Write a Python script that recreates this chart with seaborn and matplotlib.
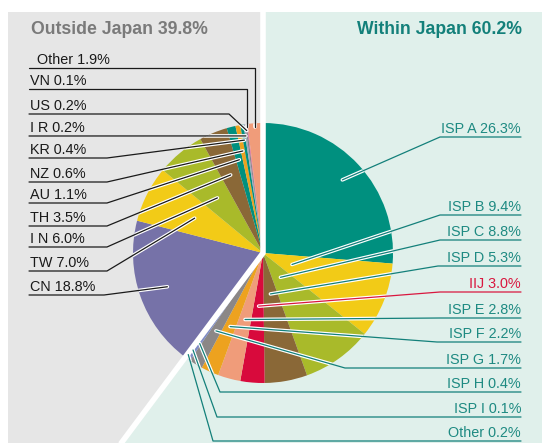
import numpy as np
import matplotlib
matplotlib.use("Agg")
import matplotlib.pyplot as plt
from matplotlib.patches import Circle, Polygon, Rectangle
import seaborn as sns

# shares in percent
jp_labels = ["ISP A", "ISP B", "ISP C", "ISP D", "IIJ", "ISP E", "ISP F", "ISP G", "ISP H", "ISP I", "Other"]
jp_share = [26.3, 9.4, 8.8, 5.3, 3.0, 2.8, 2.2, 1.7, 0.4, 0.1, 0.2]
ext_labels = ["CN", "TW", "I N", "TH", "AU", "NZ", "KR", "I R", "US", "VN", "Other"]
ext_share = [18.8, 7.0, 6.0, 3.5, 1.1, 0.6, 0.4, 0.2, 0.2, 0.1, 1.9]
jp_total = "Within Japan 60.2%"
ext_total = "Outside Japan 39.8%"

jp_colors = ["#00907f", "#f2cb17", "#a9ba2a", "#8a6837", "#d80a3c", "#f09c7a",
             "#eda21f", "#8b8787", "#7f8bc4", "#e8609a", "#5b8fd0"]
ext_colors = ["#7672a8", "#f2cb17", "#a9ba2a", "#8a6837", "#00907f", "#eda21f",
              "#00907f", "#a3a9c0", "#8b8787", "#e8609a", "#f09c7a"]

# label layout (pixels from top-left)
jp_line_y = [137, 215, 240, 266, 292, 318, 342, 368, 392, 417, 441]
jp_elbow_x = [440, 440, 440, 438, 440, 440, 437, 345, 220, 217, 213]
jp_frac = [0.83, 0.24, 0.23, 0.32, 0.41, 0.53, 0.62, 0.70, 0.85, 0.92, 0.97]
ext_line_y = [295, 271, 247, 226, 203, 182, 158, 136, 114, 89, 68]
ext_elbow_x = [104, 107, 107, 107, 107, 107, 107, None, 229, "v", "v"]
ext_frac = [0.78, 0.59, 0.55, 0.65, 0.74, 0.80, 0.88, 0.91, 0.95, 0.98, 0.97]

W, H = 542, 443
CX, CY, R = 263, 253, 130

sns.set_theme(style="white")
plt.rcParams['font.family'] = ['Liberation Sans', 'DejaVu Sans']


def P(x, y):
    return (x, H - y)


fig = plt.figure(figsize=(W / 100, H / 100), dpi=100)
ax = fig.add_axes([0, 0, 1, 1])

palette = sns.color_palette(jp_colors + ext_colors)
wedges, _ = ax.pie(jp_share + ext_share, colors=palette, startangle=90, counterclock=False,
                   radius=R, center=P(CX, CY), wedgeprops=dict(linewidth=0), frame=True)
for w in wedges:
    w.set_zorder(2)

ax.set_xlim(0, W)
ax.set_ylim(0, H)
ax.set_aspect('equal')
ax.axis('off')

# boundary between Japan and outside
bnd = np.deg2rad(wedges[len(jp_share) - 1].theta1)
cx, cy = P(CX, CY)
ex, ey = cx + 500 * np.cos(bnd), cy + 500 * np.sin(bnd)

# backgrounds
ax.add_patch(Rectangle(P(8, 443), CX + 5 - 8, 431, facecolor="#e6e6e6", edgecolor="none", zorder=0))
ax.add_patch(Polygon([P(CX, 12), P(W, 12), (W, 0), (ex, ey), (cx, cy)], closed=True,
                     facecolor="#e0f0eb", edgecolor="none", zorder=0.5))
ax.plot([cx, cx, ex], [H, cy, ey], color="white", lw=4, solid_capstyle="butt", zorder=3)

clip = Circle((cx, cy), R, transform=ax.transData)


def anchor(w, frac):
    a = np.deg2rad((w.theta1 + w.theta2) / 2)
    return cx + frac * R * np.cos(a), cy + frac * R * np.sin(a)


def leader(xs, ys, color):
    halo, = ax.plot(xs, ys, color="white", lw=2.6, zorder=4, solid_capstyle="round")
    halo.set_clip_path(clip)
    ax.plot(xs, ys, color=color, lw=0.9, zorder=5)


teal = "#13807a"
for i, lab in enumerate(jp_labels):
    w = wedges[i]
    axp, ayp = anchor(w, jp_frac[i])
    col = "#d9173f" if lab == "IIJ" else teal
    ly = H - jp_line_y[i]
    leader([axp, jp_elbow_x[i], 521], [ayp, ly, ly], col)
    ax.text(521, ly + 4, f"{lab} {jp_share[i]}%", ha="right", va="baseline",
            fontsize=10.4, color=col if lab == "IIJ" else "#1e8a82", zorder=6)

for i, lab in enumerate(ext_labels):
    w = wedges[len(jp_share) + i]
    axp, ayp = anchor(w, ext_frac[i])
    ly = H - ext_line_y[i]
    e = ext_elbow_x[i]
    if e is None:
        xs, ys = [29, axp], [ly, ayp]
    elif e == "v":
        xs, ys = [29, axp, axp], [ly, ly, ayp]
    else:
        xs, ys = [29, e, axp], [ly, ly, ayp]
    leader(xs, ys, "#1a1a1a")
    tx = 37 if lab == "Other" else 30
    ax.text(tx, ly + 4, f"{lab} {ext_share[i]}%", ha="left", va="baseline",
            fontsize=10.4, color="#1a1a1a", zorder=6)

ax.text(31, H - 34, ext_total, ha="left", va="baseline", fontsize=12.7,
        fontweight="bold", color="#7a7a7a", zorder=6)
ax.text(522, H - 34, jp_total, ha="right", va="baseline", fontsize=12.7,
        fontweight="bold", color=teal, zorder=6)

fig.savefig("out.png", dpi=100)
